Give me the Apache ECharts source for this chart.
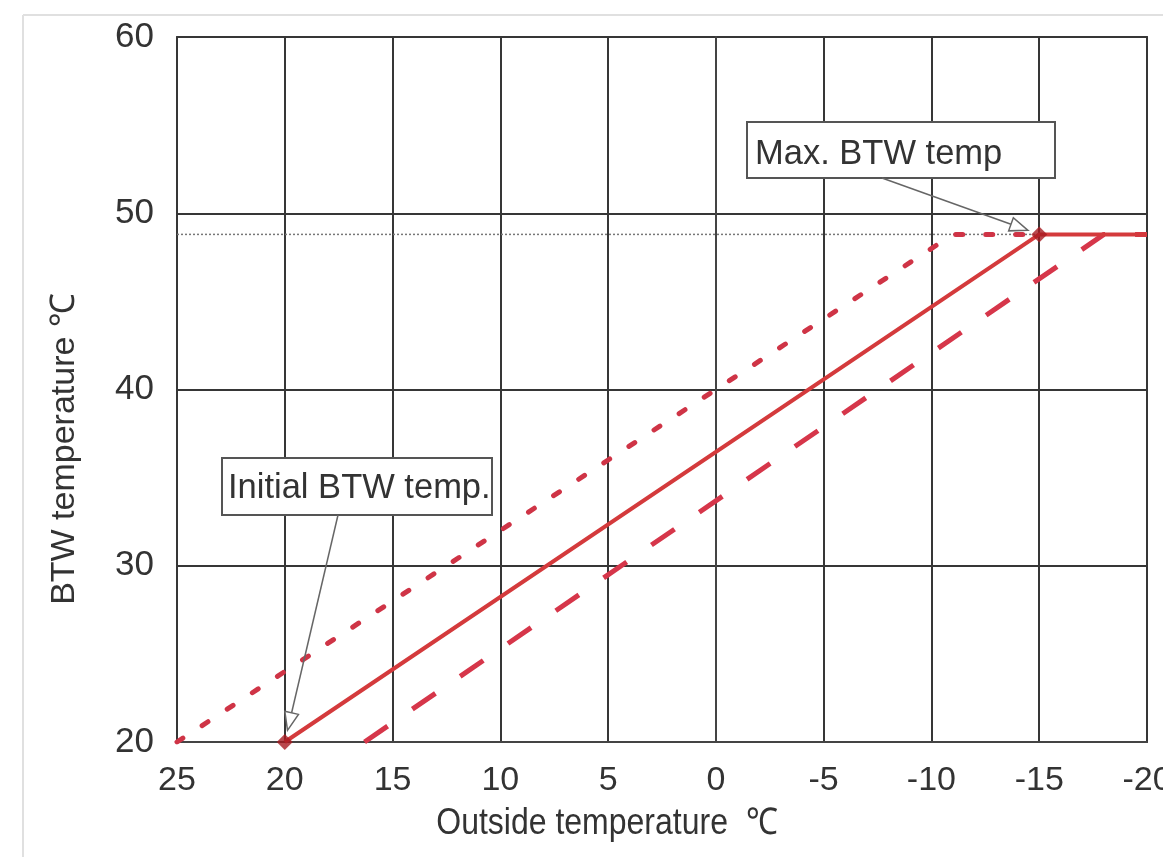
<!DOCTYPE html>
<html><head><meta charset="utf-8">
<script src="https://cdn.jsdelivr.net/npm/echarts@6/dist/echarts.min.js"></script>
<style>html,body{margin:0;padding:0;background:#fff}#c{width:1163px;height:857px}</style>
</head><body><div id="c"></div>
<script>
const xTicks = [25, 20, 15, 10, 5, 0, -5, -10, -15, -20];
const yTicks = [20, 30, 40, 50, 60];
const maxTemp = 48.8;
const refLine = [[25, 48.8], [-20, 48.8]];
const solidCurve = [[20, 20], [-15, 48.8], [-20, 48.8]];
const dottedCurve = [[25, 20], [-11, 48.8], [-15, 48.8]];
const dashedCurve = [[16.3, 20], [-18, 48.8], [-20, 48.8]];
const keyPoints = [[20, 20], [-15, 48.8]];
const xTitle = 'Outside temperature  ℃';
const yTitle = 'BTW temperature ℃';
const noteMax = 'Max. BTW temp';
const noteInit = 'Initial BTW temp.';

const REG = '"Liberation Sans",Arial,sans-serif';
const RED = '#d43a3c';

const chart = echarts.init(document.getElementById('c'), null, {renderer: 'canvas'});
const option = {
  backgroundColor: '#fff',
  animation: false,
  grid: {left: 177, right: 16, top: 37, bottom: 115, show: true, borderColor: '#444', borderWidth: 2,
    backgroundColor: 'transparent', containLabel: false, outerBoundsMode: 'none'},
  xAxis: {
    type: 'value', inverse: true, min: -20, max: 25, interval: 5,
    axisLine: {show: true, lineStyle: {color: '#444', width: 2}},
    axisTick: {show: false},
    splitLine: {show: true, lineStyle: {color: '#363636', width: 2}},
    axisLabel: {color: '#333', fontFamily: REG, fontSize: 34, margin: 22, hideOverlap: false,
      formatter: v => xTicks.includes(v) ? String(v) : ''}
  },
  yAxis: {
    type: 'value', min: 20, max: 60, interval: 10,
    axisLine: {show: true, lineStyle: {color: '#444', width: 2}},
    axisTick: {show: false},
    splitLine: {show: true, lineStyle: {color: '#363636', width: 2}},
    axisLabel: {color: '#333', fontFamily: REG, fontSize: 35, margin: 23,
      formatter: v => yTicks.includes(v) ? String(v) : ''}
  },
  series: [
    {type: 'line', data: refLine, symbol: 'none', z: 1,
      lineStyle: {color: '#777', width: 1.5, type: [2, 2]}},
    {type: 'line', data: dottedCurve, symbol: 'none', z: 3,
      lineStyle: {color: '#cf3446', width: 5, type: [7, 23], cap: 'round'}},
    {type: 'line', data: dashedCurve, symbol: 'none', z: 3,
      lineStyle: {color: '#d6364a', width: 5, type: [28, 30]}},
    {type: 'line', data: solidCurve, symbol: 'none', z: 4,
      lineStyle: {color: RED, width: 4}},
    {type: 'scatter', data: keyPoints, symbol: 'diamond', symbolSize: 16, z: 6,
      itemStyle: {color: '#a81c22'}}
  ]
};
chart.setOption(option);

function arrow(start, point, back) {
  const dx = point[0] - start[0], dy = point[1] - start[1];
  const len = Math.hypot(dx, dy), ux = dx / len, uy = dy / len;
  const tip = [point[0] - ux * back, point[1] - uy * back];
  const hl = 18, hw = 7;
  const base = [tip[0] - ux * hl, tip[1] - uy * hl];
  const px = -uy, py = ux;
  return [
    {type: 'line', z: 20, shape: {x1: start[0], y1: start[1], x2: base[0], y2: base[1]},
      style: {stroke: '#666', lineWidth: 1.5}},
    {type: 'polygon', z: 20, shape: {points: [tip, [base[0] + px * hw, base[1] + py * hw], [base[0] - px * hw, base[1] - py * hw]]},
      style: {fill: '#fff', stroke: '#666', lineWidth: 1.5}}
  ];
}

const pMax = chart.convertToPixel({gridIndex: 0}, keyPoints[1]);
const pInit = chart.convertToPixel({gridIndex: 0}, keyPoints[0]);

const graphics = [
  {type: 'line', z: 0, shape: {x1: 23, y1: 15, x2: 1163, y2: 15}, style: {stroke: '#e0e0e0', lineWidth: 2}},
  {type: 'line', z: 0, shape: {x1: 23, y1: 15, x2: 23, y2: 857}, style: {stroke: '#e0e0e0', lineWidth: 2}},
  {type: 'text', z: 10, x: 607, y: 824, scaleY: 1.15, style: {text: xTitle, font: '32px ' + REG, fill: '#333', align: 'center', verticalAlign: 'middle'}},
  {type: 'text', z: 10, x: 65, y: 449, rotation: Math.PI / 2, style: {text: yTitle, font: '34px ' + REG, fill: '#333', align: 'center', verticalAlign: 'middle'}},
  {type: 'rect', z: 19, shape: {x: 747, y: 122, width: 308, height: 56}, style: {fill: '#fff', stroke: '#555', lineWidth: 2}},
  {type: 'text', z: 21, x: 755, y: 154, style: {text: noteMax, font: '34.5px ' + REG, fill: '#333', align: 'left', verticalAlign: 'middle'}},
  {type: 'rect', z: 19, shape: {x: 222, y: 458, width: 270, height: 57}, style: {fill: '#fff', stroke: '#555', lineWidth: 2}},
  {type: 'text', z: 21, x: 228, y: 488, style: {text: noteInit, font: '34.5px ' + REG, fill: '#333', align: 'left', verticalAlign: 'middle'}}
].concat(arrow([882, 178], pMax, 12), arrow([338, 515], pInit, 12));

chart.setOption({graphic: {elements: graphics}});
</script>
</body></html>
